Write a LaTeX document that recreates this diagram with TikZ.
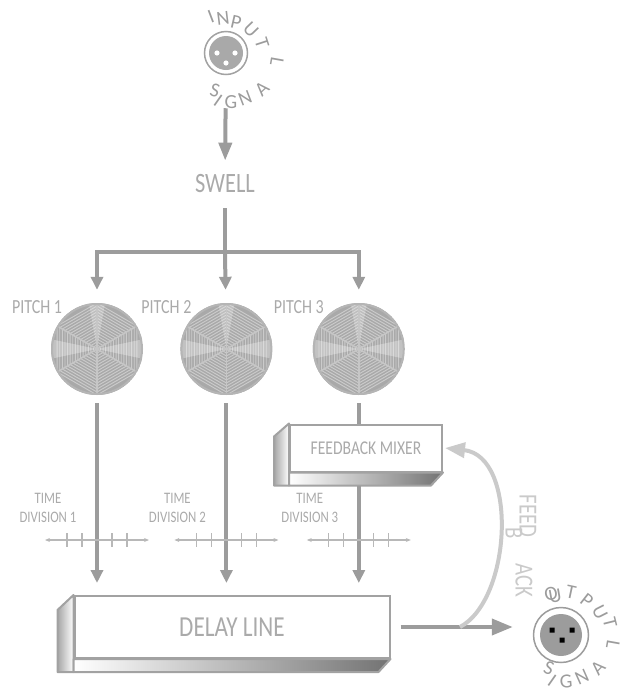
\documentclass[tikz,border=0pt]{standalone}
\usepackage{fontspec}
\setmainfont{Carlito}
\newfontfamily\narrowfont[FakeStretch=0.8]{Carlito}
\usetikzlibrary{arrows.meta, positioning, calc}
\definecolor{wiregray}{HTML}{9C9C9C}
\definecolor{inktext}{HTML}{AAAAAA}
\definecolor{faint}{HTML}{CACACA}
\definecolor{rim}{HTML}{A2A2A2}
\definecolor{discfill}{HTML}{A9A9A9}
\definecolor{tickgray}{HTML}{B8B8B8}
\definecolor{pin}{HTML}{5E5E5E}

\begin{document}
\begin{tikzpicture}[
  x=1pt, y=-1pt,
  wire/.style={draw=wiregray, line width=4pt},
  flow/.style={wire, -{Triangle[width=12pt,length=13pt]}},
  bigflow/.style={wire, -{Triangle[width=16pt,length=21pt]}},
  fback/.style={draw=faint, line width=4pt, -{Triangle[width=15pt,length=20pt]}},
  caption/.style={font=\narrowfont, text=inktext, inner sep=0pt},
  pitchlbl/.style={caption, font=\narrowfont\fontsize{20}{22}\selectfont, label distance=3pt},
  tdiv/.style={caption, font=\narrowfont\fontsize{16}{19}\selectfont, align=center},
  disc/.style={circle, minimum size=92pt, inner sep=0pt, fill=discfill},
  jack/.style={circle, draw=rim, line width=1.5pt, fill=white, inner sep=0pt},
  ringchar/.style={font=\fontsize{20}{20}\selectfont, text=wiregray, inner sep=0pt},
  slab/.style={draw=rim, line width=2pt, fill=white, text=inktext, inner sep=0pt},
  face/.style={draw=rim, line width=2pt, line join=round},
  scaleline/.style={draw=tickgray, line width=1.2pt},
]
  \useasboundingbox (0,0) rectangle (620,691);

  % Input jack
  \node[jack, minimum size=43pt] (in) at (226,53) {};
  \fill[discfill] (in) circle[radius=17pt];
  \fill[white] ($(in)+(-9,0)$) circle[radius=2.6pt]
               ($(in)+(9,0)$) circle[radius=2.6pt]
               ($(in)+(0,10)$) circle[radius=2.6pt];
  \foreach \ch/\px/\py/\r [count=\k] in {I/211/17/21, N/223/18/7, P/236/22/-13,
      U/251/30/-46, T/262/43/-72, L/277/62/-100, S/215/90/-15, I/218/101/-35,
      G/231/102/0, N/245/98/21, A/262/89/43}
    \node[ringchar, rotate=\r] (inch\k) at (\px,\py) {\ch};

  % Swell and the split to the pitch shifters
  \node[caption, font=\narrowfont\fontsize{28}{30}\selectfont] (swell) at (225,184) {SWELL};
  \draw[flow, -{Triangle[width=13pt,length=18pt]}, shorten <=33pt, shorten >=14pt] (in) -- (swell);
  \coordinate (split) at (225,252);
  \draw[wire, shorten <=15pt] (swell) -- (split);

  \node[disc, label={[pitchlbl]135:PITCH 1}] (p1) at (97,349) {};
  \node[disc, right=37pt of p1, label={[pitchlbl]135:PITCH 2}] (p2) {};
  \node[disc, right=40pt of p2, label={[pitchlbl]135:PITCH 3}] (p3) {};

  \draw[flow, shorten >=13pt] (split) -| (p1);
  \draw[flow, shorten >=13pt] (split) -| (p3);
  \draw[flow, shorten >=13pt] (split) -- (p2);

  % Disc texture
  \foreach \p in {p1,p2,p3}{
    \begin{scope}[shift={(\p.center)}]
      \clip (0,0) circle[radius=46pt];
      \foreach \r in {4,7,...,46}
        \draw[white, opacity=.4, line width=.9pt] (30:\r pt) -- (90:\r pt) -- (150:\r pt)
          -- (210:\r pt) -- (270:\r pt) -- (330:\r pt) -- cycle;
      \fill[white, opacity=.3] (0,0) -- (-12:48pt) -- (12:48pt) -- cycle;
      \fill[white, opacity=.3] (0,0) -- (168:48pt) -- (192:48pt) -- cycle;
      \fill[white, opacity=.25] (0,0) -- (80:48pt) -- (100:48pt) -- cycle;
      \foreach \a in {30,90,...,330}
        \draw[white!55!gray, line width=1.6pt] (0,0) -- (\a:46pt);
      \draw[rim!80!white, line width=2pt] (0,0) circle[radius=45pt];
    \end{scope}
  }

  % Feedback mixer
  \node[slab, minimum width=152pt, minimum height=47pt,
        font=\narrowfont\fontsize{19.5}{21}\selectfont] (fm) at (366,448) {FEEDBACK MIXER};
  \draw[face, left color=gray!70, right color=white]
    (fm.north west) -- ++(-15,13) -- ($(fm.south west)+(-15,13)$) -- ($(fm.south west)+(0,13)$) -- cycle;
  \draw[face, left color=white, right color=black!55]
    (fm.south west) -- (fm.south east) -- ++(-12,13) -- ($(fm.south west)+(0,13)$) -- cycle;

  % Delay line
  \node[slab, minimum width=315pt, minimum height=62pt,
        font=\narrowfont\fontsize{29}{31}\selectfont] (dl) at (232,627) {DELAY LINE};
  \draw[face, left color=gray!70, right color=white]
    (dl.north west) -- ++(-16,15) -- ($(dl.south west)+(-16,13)$) -- ($(dl.south west)+(0,13)$) -- cycle;
  \draw[face, left color=white, right color=black!55]
    (dl.south west) -- (dl.south east) -- ++(-12,13) -- ($(dl.south west)+(0,13)$) -- cycle;

  % Pitch outputs down to the delay line
  \draw[flow, shorten <=8pt, shorten >=12pt] (p1) -- (p1 |- dl.north);
  \draw[flow, shorten <=8pt, shorten >=12pt] (p2) -- (p2 |- dl.north);
  \draw[wire, shorten <=8pt] (p3) -- (p3 |- fm.north);
  \draw[flow, shorten <=13pt, shorten >=12pt] (p3 |- fm.south) -- (p3 |- dl.north);

  % Time divisions
  \foreach \p/\n in {p1/1,p2/2,p3/3}{
    \draw[scaleline, {Stealth[length=5pt,width=4pt]}-{Stealth[length=5pt,width=4pt]}]
      ($(\p |- 0,540)+(-52,0)$) -- ++(104,0);
    \foreach \dx in {-30,-15,15,30}
      \draw[scaleline] ($(\p |- 0,540)+(\dx,-7)$) -- ++(0,14);
    \node[tdiv] (td\n) at ($(\p |- 0,540)+(-49,-32)$) {TIME\\DIVISION \n};
  }

  % Output jack
  \node[jack, minimum size=55pt, draw=wiregray] (out) at (561,635) {};
  \fill[wiregray] (out) circle[radius=21pt];
  \fill[pin] ($(out)+(-11.5,-7.5)$) rectangle ++(5,5)
             ($(out)+(8.5,-7.5)$) rectangle ++(5,5)
             ($(out)+(-1.5,2.5)$) rectangle ++(5,5);
  \foreach \ch/\px/\py/\r [count=\k] in {O/551/594/12, U/555/596/10, T/571/592/-12,
      P/587/601/-38, U/600/612/-63, T/610/623/-76, L/613/645/-100, S/549/668/-21,
      I/552/681/-35, G/566/682/5, N/582/677/24, A/598/668/46}
    \node[ringchar, rotate=\r] (outch\k) at (\px,\py) {\ch};

  % Output and feedback path
  \draw[bigflow, shorten <=10pt, shorten >=20pt] (dl.east) -- (dl.east -| out.west);
  \coordinate (tap) at (dl.east -| 460,0);
  \draw[fback] (tap) .. controls +(52,-28) and +(73,8) .. ([xshift=2pt]fm.east);
  \node[caption, text=faint, rotate=-90, font=\narrowfont\fontsize{26}{26}\selectfont] (fbA) at (528,516) {FEED};
  \node[caption, text=faint, rotate=-90, font=\narrowfont\fontsize{26}{26}\selectfont] (fbB) at (514,533) {B};
  \node[caption, text=faint, rotate=-90, font=\narrowfont\fontsize{26}{26}\selectfont] (fbC) at (524,580) {ACK};
\end{tikzpicture}
\end{document}
